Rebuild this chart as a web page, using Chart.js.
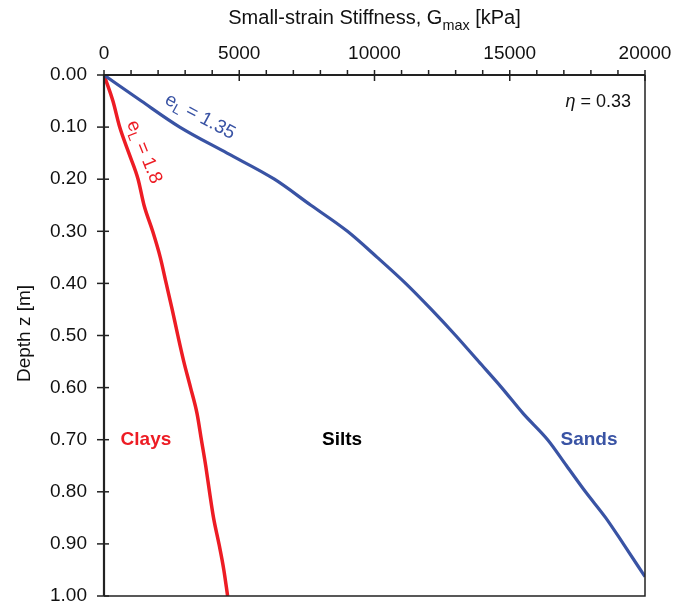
<!DOCTYPE html>
<html>
<head>
<meta charset="utf-8">
<script src="https://cdn.jsdelivr.net/npm/chart.js@4/dist/chart.umd.min.js"></script>
<style>
  html, body { margin: 0; padding: 0; background: #fff; overflow: hidden; }
  canvas { display: block; }
</style>
</head>
<body>
<canvas id="gmax-chart" width="690" height="604"></canvas>
<script>
// depth profiles of Gmax (kPa) vs depth z (m)
const sandDepth = [0, 0.05, 0.10, 0.15, 0.20, 0.25, 0.30, 0.35, 0.40, 0.45, 0.50, 0.55, 0.60, 0.65, 0.70, 0.75, 0.80, 0.85, 0.90, 0.963];
const sandG     = [0, 1380, 2800, 4550, 6300, 7650, 9000, 10100, 11150, 12100, 13000, 13850, 14700, 15500, 16400, 17100, 17800, 18550, 19200, 20000];
const clayDepth = [0, 0.05, 0.10, 0.15, 0.20, 0.25, 0.30, 0.35, 0.40, 0.45, 0.50, 0.55, 0.60, 0.65, 0.70, 0.75, 0.80, 0.85, 0.90, 0.95, 1.00];
const clayG     = [0, 330, 580, 920, 1260, 1480, 1800, 2080, 2300, 2520, 2730, 2950, 3200, 3440, 3600, 3760, 3900, 4050, 4250, 4430, 4570];
const xTicks = [0, 5000, 10000, 15000, 20000];
const yTicks = [0, 0.1, 0.2, 0.3, 0.4, 0.5, 0.6, 0.7, 0.8, 0.9, 1.0];

const RED = '#ed1c24';
const BLUE = '#3953a4';
const FONT = '"Liberation Sans", Arial, sans-serif';

function pts(xs, ys) {
  return xs.map((x, i) => ({ x: x, y: ys[i] }));
}

// text with a subscript, e.g. e_L, G_max
function subText(ctx, parts, x, y, size) {
  let cx = x;
  parts.forEach(p => {
    const s = p.sub ? size * 0.72 : size;
    ctx.font = (p.bold ? 'bold ' : '') + s + 'px ' + FONT;
    ctx.fillText(p.t, cx, y + (p.sub ? size * 0.28 : 0));
    cx += ctx.measureText(p.t).width;
  });
  return cx - x;
}
function subWidth(ctx, parts, size) {
  let w = 0;
  parts.forEach(p => {
    const s = p.sub ? size * 0.72 : size;
    ctx.font = s + 'px ' + FONT;
    w += ctx.measureText(p.t).width;
  });
  return w;
}

const frame = {
  id: 'frame',
  afterDraw(chart) {
    const { ctx, chartArea: a, scales } = chart;
    const xs = scales.x, ys = scales.y;
    ctx.save();
    ctx.strokeStyle = '#222';
    // right + bottom
    ctx.lineWidth = 1.5;
    ctx.beginPath();
    ctx.moveTo(a.right, a.top); ctx.lineTo(a.right, a.bottom); ctx.lineTo(a.left, a.bottom);
    ctx.stroke();
    // top + left
    ctx.lineWidth = 2.2;
    ctx.beginPath();
    ctx.moveTo(a.right, a.top); ctx.lineTo(a.left, a.top); ctx.lineTo(a.left, a.bottom);
    ctx.stroke();
    // x ticks, minor every 1000
    ctx.lineWidth = 1.5;
    for (let v = 0; v <= 20000; v += 1000) {
      const px = xs.getPixelForValue(v);
      const major = v % 5000 === 0;
      ctx.beginPath();
      ctx.moveTo(px, a.top - 5);
      ctx.lineTo(px, a.top + (major ? 6 : 0));
      ctx.stroke();
    }
    // y ticks
    yTicks.forEach(v => {
      const py = ys.getPixelForValue(v);
      ctx.beginPath();
      ctx.moveTo(a.left - 7, py);
      ctx.lineTo(a.left + 5, py);
      ctx.stroke();
    });

    // axis titles
    ctx.fillStyle = '#111';
    ctx.textBaseline = 'alphabetic';
    const tParts = [{ t: 'Small-strain Stiffness, G' }, { t: 'max', sub: true }, { t: ' [kPa]' }];
    const tw = subWidth(ctx, tParts, 20);
    subText(ctx, tParts, (a.left + a.right) / 2 - tw / 2, 24, 20);

    ctx.save();
    ctx.translate(25, (a.top + a.bottom) / 2 - 2);
    ctx.rotate(-Math.PI / 2);
    ctx.textAlign = 'center';
    ctx.textBaseline = 'middle';
    ctx.font = '19px ' + FONT;
    ctx.fillText('Depth z [m]', 0, 0);
    ctx.restore();

    // curve labels
    const lab = (parts, color, vx, vy, ang, size) => {
      ctx.save();
      ctx.fillStyle = color;
      ctx.translate(xs.getPixelForValue(vx), ys.getPixelForValue(vy));
      ctx.rotate(ang * Math.PI / 180);
      const w = subWidth(ctx, parts, size);
      ctx.textAlign = 'left';
      ctx.textBaseline = 'middle';
      subText(ctx, parts, -w / 2, 0, size);
      ctx.restore();
    };
    lab([{ t: 'e' }, { t: 'L', sub: true }, { t: ' = 1.35' }], BLUE, 3550, 0.080, 28.5, 19);
    lab([{ t: 'e' }, { t: 'L', sub: true }, { t: ' = 1.8' }], RED, 1480, 0.148, 68, 19);

    // soil type labels
    ctx.textAlign = 'center';
    ctx.textBaseline = 'middle';
    ctx.font = 'bold 19px ' + FONT;
    ctx.fillStyle = RED;
    ctx.fillText('Clays', xs.getPixelForValue(1550), ys.getPixelForValue(0.70));
    ctx.fillStyle = '#000';
    ctx.fillText('Silts', xs.getPixelForValue(8800), ys.getPixelForValue(0.70));
    ctx.fillStyle = BLUE;
    ctx.fillText('Sands', xs.getPixelForValue(17930), ys.getPixelForValue(0.70));

    // eta annotation
    ctx.fillStyle = '#111';
    ctx.textAlign = 'left';
    ctx.textBaseline = 'alphabetic';
    ctx.font = 'italic 18px ' + FONT;
    const ex = xs.getPixelForValue(17060), ey = ys.getPixelForValue(0.0614);
    ctx.fillText('\u03b7', ex, ey);
    const ew = ctx.measureText('\u03b7').width;
    ctx.font = '18px ' + FONT;
    ctx.fillText(' = 0.33', ex + ew, ey);
    ctx.restore();
  }
};

new Chart(document.getElementById('gmax-chart').getContext('2d'), {
  type: 'scatter',
  data: {
    datasets: [{
      label: 'Sands',
      data: pts(sandG, sandDepth),
      showLine: true,
      borderColor: BLUE,
      borderWidth: 3.2,
      pointRadius: 0,
      cubicInterpolationMode: 'monotone'
    }, {
      label: 'Clays',
      data: pts(clayG, clayDepth),
      showLine: true,
      borderColor: RED,
      borderWidth: 3.5,
      pointRadius: 0,
      cubicInterpolationMode: 'monotone'
    }]
  },
  options: {
    responsive: false,
    animation: false,
    layout: { padding: { top: 0, left: 0, right: 45, bottom: 8 } },
    plugins: { legend: { display: false }, tooltip: { enabled: false } },
    scales: {
      x: {
        type: 'linear',
        position: 'top',
        min: 0,
        max: 20000,
        afterBuildTicks: s => { s.ticks = xTicks.map(v => ({ value: v })); },
        afterFit: s => { s.height = 75; s.paddingLeft = 0; s.paddingRight = 0; },
        grid: { display: false, drawTicks: false },
        border: { display: false },
        ticks: { color: '#111', padding: 10, font: { family: FONT, size: 19 }, callback: v => String(v) }
      },
      y: {
        type: 'linear',
        reverse: true,
        min: 0,
        max: 1,
        afterBuildTicks: s => { s.ticks = yTicks.map(v => ({ value: v })); },
        afterFit: s => { s.width = 104; s.paddingTop = 0; s.paddingBottom = 0; },
        grid: { display: false, drawTicks: false },
        border: { display: false },
        ticks: { color: '#111', padding: 17, font: { family: FONT, size: 19 }, callback: v => Number(v).toFixed(2) }
      }
    }
  },
  plugins: [frame]
});
</script>
</body>
</html>
